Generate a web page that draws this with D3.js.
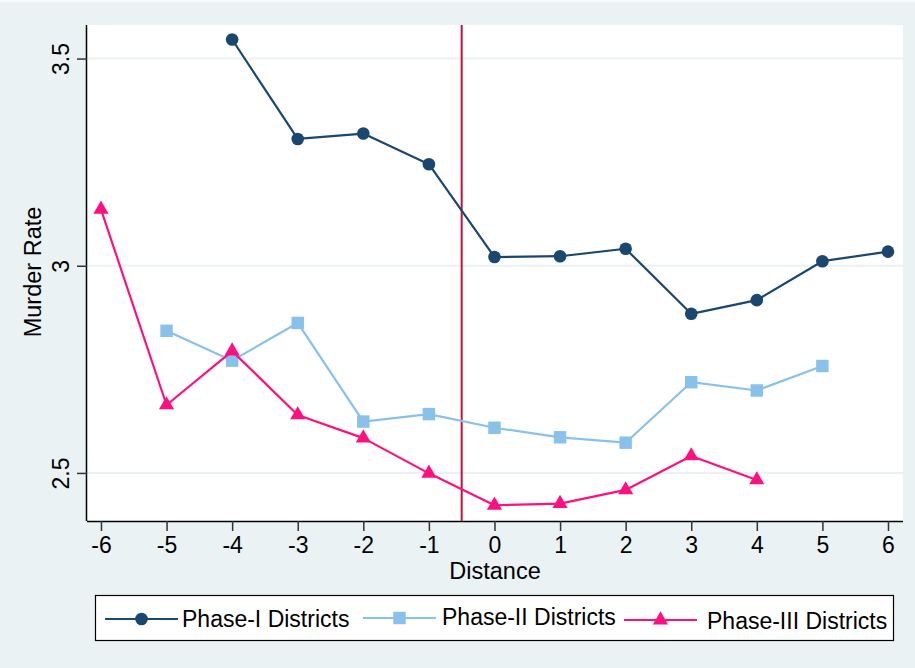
<!DOCTYPE html>
<html>
<head>
<meta charset="utf-8">
<script src="https://cdn.jsdelivr.net/npm/d3@7"></script>
<style>
  html, body { margin: 0; padding: 0; background: #EAF2F3; }
  svg { display: block; }
  text { font-family: "Liberation Sans", Arial, sans-serif; fill: #000; }
</style>
</head>
<body>
<script>
// Murder rate by distance from the phase rollout, three district groups
const distance = [-6, -5, -4, -3, -2, -1, 0, 1, 2, 3, 4, 5, 6];
const xTicks = [-6, -5, -4, -3, -2, -1, 0, 1, 2, 3, 4, 5, 6];
const yTicks = [2.5, 3, 3.5];

// null = no observation at that distance
const phase1 = [null, null, 3.546, 3.306, 3.319, 3.245, 3.021, 3.023, 3.041, 2.884, 2.917, 3.011, 3.034];
const phase2 = [null, 2.843, 2.771, 2.862, 2.624, 2.642, 2.609, 2.586, 2.573, 2.719, 2.699, 2.758, null];
const phase3 = [3.136, 2.664, 2.794, 2.640, 2.584, 2.499, 2.422, 2.426, 2.459, 2.541, 2.483, null, null];

const seriesNames = ["Phase-I Districts", "Phase-II Districts", "Phase-III Districts"];
const cutoff = -0.5;

const W = 915, H = 668;
const plot = { left: 87, right: 903, top: 25, bottom: 521 };

const svg = d3.select("body").append("svg")
  .attr("width", W).attr("height", H);

svg.append("rect").attr("width", W).attr("height", H).attr("fill", "#EAF2F3");
svg.append("line").attr("x1", 0).attr("x2", W).attr("y1", 1).attr("y2", 1)
  .attr("stroke", "#F7FAFB").attr("stroke-width", 2);

const x = d3.scaleLinear().domain([-6.213, 6.229]).range([plot.left, plot.right]);
const y = d3.scaleLinear().domain([2.384, 3.581]).range([plot.bottom, plot.top]);

// plain hyphen for negatives, as in the axis labels
const fmt = d => String(d);

// plot region
svg.append("rect")
  .attr("x", plot.left).attr("y", plot.top)
  .attr("width", plot.right - plot.left).attr("height", plot.bottom - plot.top)
  .attr("fill", "#fff");

// horizontal grid
svg.append("g").selectAll("line").data(yTicks).join("line")
  .attr("x1", plot.left).attr("x2", plot.right)
  .attr("y1", d => y(d)).attr("y2", d => y(d))
  .attr("stroke", "#EAF2F3").attr("stroke-width", 2);

// axes
const xAxis = d3.axisBottom(x).tickValues(xTicks).tickSize(10).tickPadding(6).tickFormat(fmt);
const gx = svg.append("g").attr("transform", `translate(0,${plot.bottom})`).call(xAxis);
gx.select(".domain").attr("stroke", "#000").attr("stroke-width", 1.5)
  .attr("d", `M${plot.left},0.5H${plot.right}`);
gx.selectAll(".tick line").attr("stroke", "#333").attr("stroke-width", 1.5);
gx.selectAll(".tick text").attr("font-size", 23).attr("font-family", "Liberation Sans, Arial, sans-serif")
  .attr("dy", "0.68em").attr("fill", "#000");

const yAxis = d3.axisLeft(y).tickValues(yTicks).tickSize(10).tickFormat(fmt);
const gy = svg.append("g").attr("transform", `translate(${plot.left},0)`).call(yAxis);
gy.select(".domain").attr("stroke", "#000").attr("stroke-width", 1.5)
  .attr("d", `M-0.5,${plot.top}V${plot.bottom}`);
gy.selectAll(".tick line").attr("stroke", "#333").attr("stroke-width", 1.5);
gy.selectAll(".tick text")
  .attr("font-size", 23).attr("font-family", "Liberation Sans, Arial, sans-serif").attr("fill", "#000")
  .attr("x", null).attr("dy", null)
  .attr("text-anchor", "middle")
  .attr("transform", "translate(-18,0) rotate(-90)");

// axis titles
svg.append("text").attr("x", 495).attr("y", 579)
  .attr("text-anchor", "middle").attr("font-size", 23.5).text("Distance");
svg.append("text")
  .attr("transform", `translate(41,272) rotate(-90)`)
  .attr("text-anchor", "middle").attr("font-size", 23.5).text("Murder Rate");

// cutoff line
svg.append("line")
  .attr("x1", x(cutoff)).attr("x2", x(cutoff))
  .attr("y1", plot.top).attr("y2", plot.bottom)
  .attr("stroke", "#C0103F").attr("stroke-width", 2);

const series = [
  { name: seriesNames[0], values: phase1, color: "#1A476F", symbol: d3.symbolCircle, size: 125 },
  { name: seriesNames[1], values: phase2, color: "#88C1EA", symbol: d3.symbolSquare, size: 155 },
  { name: seriesNames[2], values: phase3, color: "#FF1080", symbol: d3.symbolTriangle, size: 100 }
];

const line = d3.line().defined(d => d[1] != null).x(d => x(d[0])).y(d => y(d[1]));

series.forEach(s => {
  const pts = distance.map((dv, i) => [dv, s.values[i]]);
  const g = svg.append("g");
  g.append("path").datum(pts).attr("d", line)
    .attr("fill", "none").attr("stroke", s.color).attr("stroke-width", 2.2)
    .attr("stroke-linejoin", "round");
  g.selectAll("path.m").data(pts.filter(p => p[1] != null)).join("path")
    .attr("class", "m")
    .attr("transform", p => `translate(${x(p[0])},${y(p[1])})`)
    .attr("d", d3.symbol().type(s.symbol).size(s.size))
    .attr("fill", s.color);
});

// legend
const legend = svg.append("g");
legend.append("rect").attr("x", 95.5).attr("y", 595.5).attr("width", 798).attr("height", 45)
  .attr("fill", "#fff").attr("stroke", "#000").attr("stroke-width", 1.2);

const legendItems = [
  { lineX: 105, textX: 182, keyY: 619, textY: 627 },
  { lineX: 363, textX: 442, keyY: 618, textY: 625 },
  { lineX: 624, textX: 707, keyY: 620, textY: 629 }
];
series.forEach((s, i) => {
  const L = legendItems[i];
  legend.append("line").attr("x1", L.lineX).attr("x2", L.lineX + 73)
    .attr("y1", L.keyY).attr("y2", L.keyY)
    .attr("stroke", s.color).attr("stroke-width", 2.2);
  legend.append("path")
    .attr("transform", `translate(${L.lineX + 36.5},${L.keyY})`)
    .attr("d", d3.symbol().type(s.symbol).size(s.size))
    .attr("fill", s.color);
  legend.append("text").attr("x", L.textX).attr("y", L.textY)
    .attr("font-size", 23).text(s.name);
});
</script>
</body>
</html>
